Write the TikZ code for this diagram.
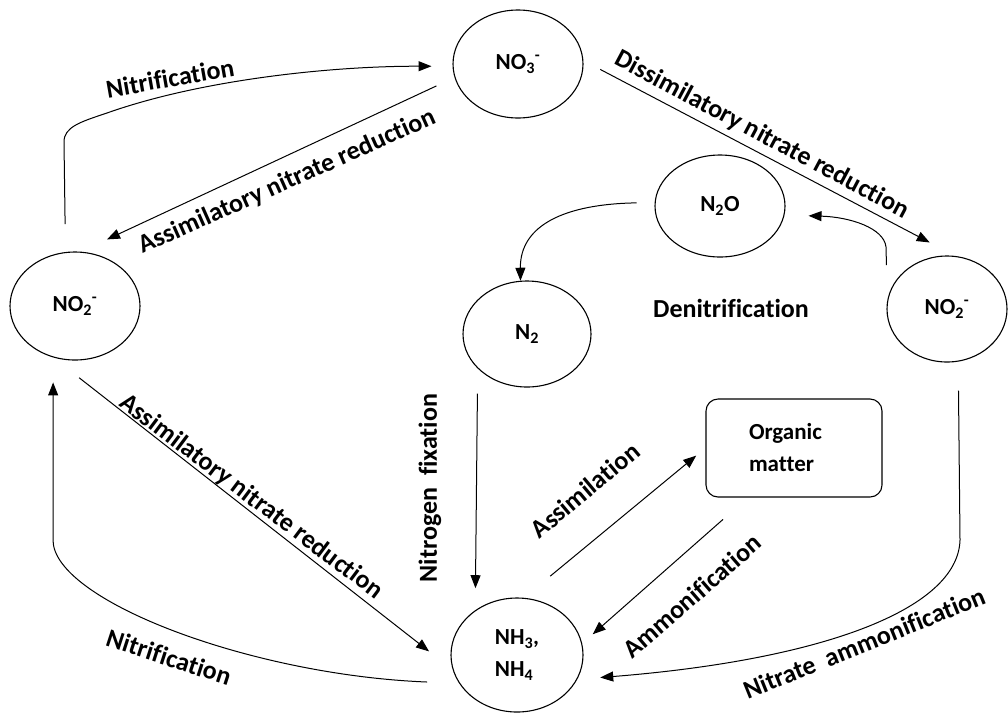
\documentclass[tikz,border=0pt]{standalone}
\usepackage{fontspec}
\setmainfont{Carlito}[Ligatures=NoCommon]
\usetikzlibrary{shapes.geometric,arrows.meta}

\begin{document}
\begin{tikzpicture}[x=1pt, y=-1pt, line width=1pt,
	>={Triangle[length=13pt,width=10pt]},
	pool/.style={ellipse, draw, line width=1.1pt, inner sep=0pt, minimum width=130pt, minimum height=108pt, font=\bfseries\fontsize{23}{32}\selectfont},
	lbl/.style={font=\bfseries\fontsize{26}{30}\selectfont, inner sep=0pt}]
	\useasboundingbox (0,0) rectangle (1008,713);

	\node[pool] (no3) at (518,64) {NO\textsubscript{3}\textsuperscript{-}};
	\node[pool] (no2l) at (75,306) {NO\textsubscript{2}\textsuperscript{-}};
	\node[pool, minimum height=102pt] (n2o) at (720,206) {N\textsubscript{2}O};
	\node[pool, minimum width=128pt, minimum height=106pt] (n2) at (527,334) {N\textsubscript{2}};
	\node[pool, minimum width=120pt, minimum height=106pt] (no2r) at (947,309) {NO\textsubscript{2}\textsuperscript{-}};
	\node[pool, minimum width=132pt, minimum height=114pt, align=left] (nh) at (517,655) {NH\textsubscript{3},\\NH\textsubscript{4}};
	\node[draw, rounded corners=12pt, line width=1.1pt, minimum width=176pt, minimum height=98pt, text width=90pt, align=left, font=\bfseries\fontsize{23}{32}\selectfont] (org) at (794,448) {Organic\\matter};

	\draw[->, shorten <=28pt, shorten >=21pt] (no2l.100) -- (64,142) .. controls (64,127) and (80,122) .. (107,113) .. controls (200,80) and (330,66) .. (no3.182);
	\draw[->, shorten <=20pt, shorten >=29pt] (no3.192) -- (no2l.84);
	\draw[->, shorten <=19pt, shorten >=29pt] (no3.3) -- (no2r.81);
	\draw[->, shorten >=24pt] ([yshift=44pt]no2r.west) -- (886,247) .. controls (884,228) and (850,217) .. (n2o.-8);
	\draw[->, shorten <=18pt] (n2o.177) .. controls (565,204) and (520,225) .. (n2.97);
	\draw[->, shorten <=25pt, shorten >=22pt] (n2.-145) -- (nh.133);
	\draw[->, shorten <=34pt, shorten >=12pt] (nh.83) -- (org.west);
	\draw[->, shorten <=33pt, shorten >=14pt] (org.227) -- (nh.10);
	\draw[->, shorten <=29pt, shorten >=23pt] (no2r.-78) -- (960,540) .. controls (958,610) and (820,660) .. (nh.-22);
	\draw[->, shorten <=33pt, shorten >=30pt] (no2l.247) -- (nh.193);
	\draw[->, shorten <=32pt, shorten >=25pt] (nh.206) .. controls (250,675) and (53,600) .. (53,540) -- (no2l.247);

	\node[lbl, rotate=10] (nitrifA) at (170,78) {Nitrification};
	\node[lbl, rotate=24] (assimA) at (287,182) {Assimilatory nitrate reduction};
	\node[lbl, rotate=-28] (dissim) at (762,135) {Dissimilatory nitrate reduction};
	\node[lbl] (denit) at (731,308) {Denitrification};
	\node[lbl, rotate=90] (nfix) at (430,488) {Nitrogen\ \ fixation};
	\node[lbl, rotate=40] (assimil) at (585,490) {Assimilation};
	\node[lbl, rotate=41] (ammon) at (692,596) {Ammonification};
	\node[lbl, rotate=22] (nitamm) at (864,643) {Nitrate\ \ ammonification};
	\node[lbl, rotate=-37] (assimB) at (251,497) {Assimilatory nitrate reduction};
	\node[lbl, rotate=-18] (nitrifB) at (169,657) {Nitrification};
\end{tikzpicture}
\end{document}
